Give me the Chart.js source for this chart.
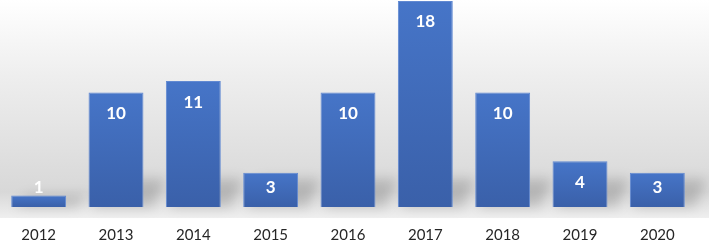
<!DOCTYPE html>
<html>
<head>
<meta charset="utf-8">
<script src="https://cdn.jsdelivr.net/npm/chart.js@4.4.0/dist/chart.umd.min.js"></script>
<style>
  html, body { margin: 0; padding: 0; background: #fff; overflow: hidden; }
  canvas { display: block; }
</style>
</head>
<body>
<canvas id="myChart" width="709" height="245"></canvas>
<script>
// data
var years = ['2012', '2013', '2014', '2015', '2016', '2017', '2018', '2019', '2020'];
var counts = [1, 10, 11, 3, 10, 18, 10, 4, 3];

// grey fade behind the bars
var bgPlugin = {
    id: 'bgFade',
    beforeDraw: function (chart) {
        var ctx = chart.ctx, area = chart.chartArea;
        var bottom = area.bottom + 11;
        var g = ctx.createLinearGradient(0, 0, 0, bottom);
        g.addColorStop(0, '#ffffff');
        g.addColorStop(0.35, '#eeeeee');
        g.addColorStop(0.88, '#d8d8d8');
        g.addColorStop(1, '#efefef');
        ctx.save();
        ctx.fillStyle = g;
        ctx.fillRect(0, 0, chart.width, bottom);
        ctx.restore();
    },
    beforeDatasetsDraw: function (chart) {
        // soft floor shadow to the right of each bar
        var ctx = chart.ctx;
        var meta = chart.getDatasetMeta(0);
        ctx.save();
        ctx.filter = 'blur(6px)';
        ctx.fillStyle = 'rgba(0,0,0,0.16)';
        meta.data.forEach(function (bar) {
            var h = Math.min(bar.base - bar.y, 28);
            var left = bar.x - bar.width / 2;
            ctx.beginPath();
            ctx.moveTo(left + 4, bar.base);
            ctx.lineTo(left + bar.width + 10, bar.base);
            ctx.lineTo(left + bar.width + 22, bar.base - h);
            ctx.lineTo(left + 16, bar.base - h);
            ctx.closePath();
            ctx.fill();
        });
        ctx.restore();
    },
    afterDatasetsDraw: function (chart) {
        var ctx = chart.ctx;
        var meta = chart.getDatasetMeta(0);
        ctx.save();
        ctx.fillStyle = '#ffffff';
        ctx.font = 'bold 17px Lato, "Open Sans", sans-serif';
        ctx.textAlign = 'center';
        ctx.textBaseline = 'middle';
        meta.data.forEach(function (bar, i) {
            var y = Math.min(bar.y + 21, bar.base - 19.5);
            ctx.fillText(String(counts[i]), bar.x, y);
        });
        ctx.restore();
    }
};

var ctx = document.getElementById('myChart').getContext('2d');
var chart = new Chart(ctx, {
    type: 'bar',
    data: {
        labels: years,
        datasets: [{
            data: counts,
            backgroundColor: function (c) {
                var ch = c.chart;
                if (!ch.chartArea || c.type !== 'data') return '#4472c4';
                var y = ch.scales.y;
                var top = y.getPixelForValue(c.raw);
                var base = y.getPixelForValue(0);
                var g = ch.ctx.createLinearGradient(0, top, 0, base);
                g.addColorStop(0, '#4675c8');
                g.addColorStop(1, '#3a60a9');
                return g;
            },
            borderColor: '#6189d2',
            borderWidth: 1,
            barPercentage: 0.71,
            categoryPercentage: 1
        }]
    },
    options: {
        responsive: false,
        animation: false,
        layout: { padding: { top: 1, left: 0, right: 13, bottom: 1 } },
        plugins: {
            legend: { display: false },
            tooltip: { enabled: false }
        },
        scales: {
            x: {
                grid: { display: false, drawTicks: false },
                border: { display: false },
                ticks: {
                    color: '#262626',
                    padding: 19,
                    font: { family: 'Lato, "Open Sans", sans-serif', size: 15 }
                },
                afterFit: function (scale) { scale.height = 37; }
            },
            y: {
                display: false,
                min: 0,
                max: 18
            }
        }
    },
    plugins: [bgPlugin]
});
</script>
</body>
</html>
